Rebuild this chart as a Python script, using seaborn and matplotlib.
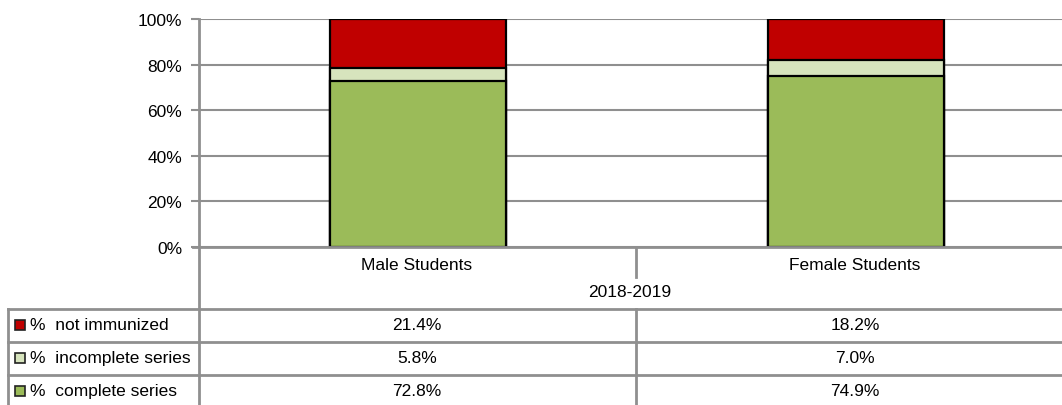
import matplotlib.pyplot as plt
import pandas as pd
import seaborn as sb
from matplotlib.lines import Line2D
from matplotlib.patches import Rectangle
import matplotlib.ticker as mticker

groups = ["Male Students", "Female Students"]
period = "2018-2019"
series = ["% not immunized", "% incomplete series", "% complete series"]
not_immunized = [21.4, 18.2]
incomplete = [5.8, 7.0]
complete = [72.8, 74.9]
colors = ["#C00000", "#D7E4BD", "#9BBB59"]

W, H = 1062, 406
grid_c = "#8f8f8f"
font = ["Liberation Sans Narrow", "Liberation Sans", "DejaVu Sans"]
plt.rcParams['font.family'] = font
fs = 12.5

df = pd.DataFrame({"group": groups, "ni": not_immunized, "inc": incomplete, "comp": complete})
df["top"] = df["ni"] + df["inc"] + df["comp"]
df["mid"] = df["inc"] + df["comp"]

fig = plt.figure(figsize=(W / 100, H / 100), dpi=100)
# pixel -> figure fraction
fx = lambda x: x / W
fy = lambda y: 1 - y / H

# plot area runs a little past the right edge, like the original
ax = fig.add_axes([fx(199), fy(248), fx(1075) - fx(199), fy(20) - fy(248)])
for col, c in zip(["top", "mid", "comp"], colors):
    sb.barplot(data=df, x="group", y=col, color=c, width=0.4, edgecolor="black",
               linewidth=1.6, saturation=1, ax=ax, zorder=3)
ax.set_ylim(0, 100)
ax.set_xlim(-0.5, 1.5)
ax.yaxis.set_major_locator(mticker.MultipleLocator(20))
ax.yaxis.set_major_formatter(mticker.FormatStrFormatter('%d%%'))
ax.grid(axis="y", color=grid_c, linewidth=1.5, zorder=0)
ax.set_axisbelow(True)
for s in ["top", "right", "bottom", "left"]:
    ax.spines[s].set_visible(False)
ax.tick_params(axis="y", length=6, width=1.5, color=grid_c, labelsize=fs, pad=6)
ax.set_xticks([])
ax.set_xlabel("")
ax.set_ylabel("")

def line(x0, y0, x1, y1):
    fig.add_artist(Line2D([fx(x0), fx(x1)], [fy(y0), fy(y1)], color=grid_c, linewidth=2))

# axis and table lines
line(199, 20, 199, 406)
line(193, 248, 1062, 248)
line(636, 248, 636, 278)
for yy in [310, 343, 376]:
    line(8, yy, 1062, yy)
line(8, 310, 8, 406)
line(636, 310, 636, 406)

# header text
fig.text(fx(417), fy(265), groups[0], ha="center", va="center", fontsize=fs)
fig.text(fx(855), fy(265), groups[1], ha="center", va="center", fontsize=fs)
fig.text(fx(630), fy(293), period, ha="center", va="center", fontsize=fs)

# table rows
rows = [not_immunized, incomplete, complete]
row_y = [326, 359, 392]
for name, vals, c, yy in zip(series, rows, colors, row_y):
    fig.add_artist(Rectangle((fx(15), fy(yy + 5)), fx(10), fy(yy - 5) - fy(yy + 5),
                             facecolor=c, edgecolor="#222222", linewidth=1.2))
    fig.text(fx(30), fy(yy), name.replace("% ", "%  "), ha="left", va="center", fontsize=fs)
    fig.text(fx(417), fy(yy), f"{vals[0]:.1f}%", ha="center", va="center", fontsize=fs)
    fig.text(fx(855), fy(yy), f"{vals[1]:.1f}%", ha="center", va="center", fontsize=fs)

fig.savefig("out.png", dpi=100)
